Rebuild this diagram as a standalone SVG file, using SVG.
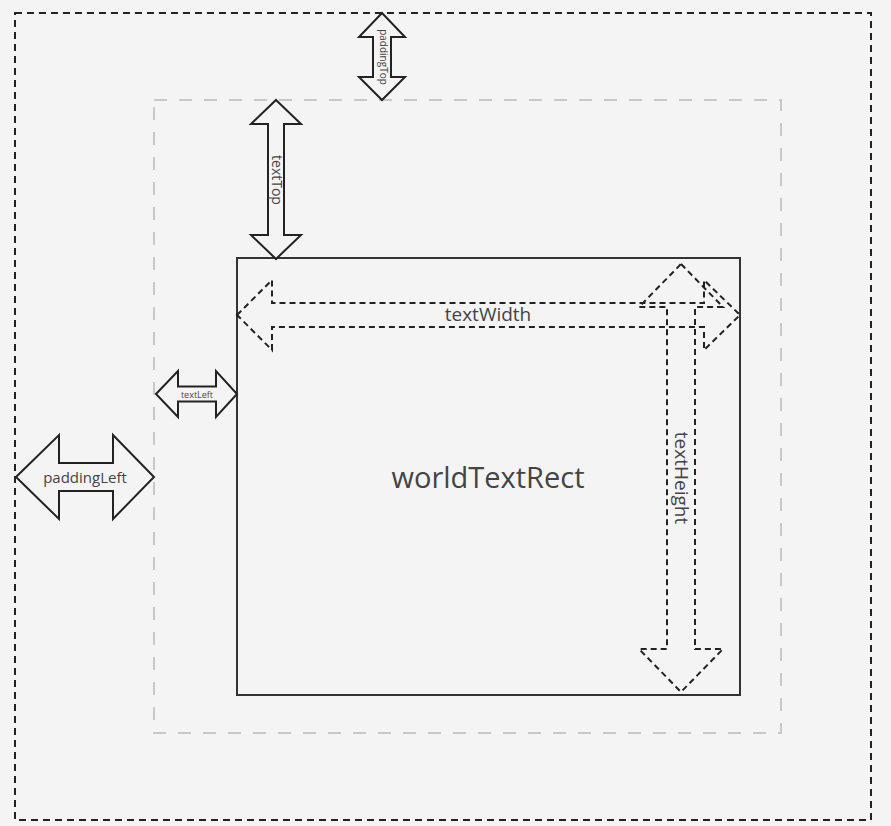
<svg xmlns="http://www.w3.org/2000/svg" width="891" height="826" viewBox="0 0 891 826">
<style>
.bg{fill:#f4f4f4}
.outer{fill:none;stroke:#222;stroke-width:2;stroke-dasharray:7 5}
.pad{fill:none;stroke:#c8c8c8;stroke-width:2;stroke-dasharray:13 12}
.rect{fill:none;stroke:#333;stroke-width:2}
.arr{fill:#f4f4f4;stroke:#222;stroke-width:2;stroke-linejoin:miter}
.darr{fill:none;stroke:#222;stroke-width:2;stroke-dasharray:6 4}
.t{font-family:"Open Sans","Noto Sans","Liberation Sans",sans-serif;fill:#444;text-anchor:middle;dominant-baseline:central}
</style>
<rect class="bg" x="0" y="0" width="891" height="826"/>
<g id="outer-box"><rect class="outer" x="15" y="13" width="856" height="807"/></g>
<g id="padding-box"><rect class="pad" x="154" y="100" width="627" height="633"/></g>
<g id="worldTextRect"><rect class="rect" x="237" y="258" width="503" height="437"/>
<text class="t" x="488" y="476" font-size="29">worldTextRect</text></g>
<g id="connectors">
<g id="paddingTop"><polygon class="arr" points="382,13 405,37 391,37 391,77 405,77 382,100 359,77 373,77 373,37 359,37"/>
<text class="t" font-size="10" transform="translate(384,57) rotate(90)">paddingTop</text></g>
<g id="textTop"><polygon class="arr" points="276,100 301,124 284,124 284,235 301,235 276,259 251,235 268,235 268,124 251,124"/>
<text class="t" font-size="14" transform="translate(277,180) rotate(90)">textTop</text></g>
<g id="textLeft"><polygon class="arr" points="156,394 178,371 178,386.5 216,386.5 216,371 237,394 216,417 216,401.5 178,401.5 178,417"/>
<text class="t" font-size="9" x="197" y="394">textLeft</text></g>
<g id="paddingLeft"><polygon class="arr" points="16,477 59,435 59,463 113,463 113,435 154,477 113,519 113,491 59,491 59,519"/>
<text class="t" font-size="15" x="85" y="477">paddingLeft</text></g>
<g id="textWidth"><polygon class="darr" points="237,315 272,280 272,303 704,303 704,280 740,315 704,350 704,327 272,327 272,350"/>
<text class="t" font-size="19" x="488" y="314">textWidth</text></g>
<g id="textHeight"><polygon class="darr" points="681,264 723,307 695,307 695,649 723,649 681,692 639,649 667,649 667,307 639,307"/>
<text class="t" font-size="19" transform="translate(682,478) rotate(90)">textHeight</text></g>
</g>
</svg>
